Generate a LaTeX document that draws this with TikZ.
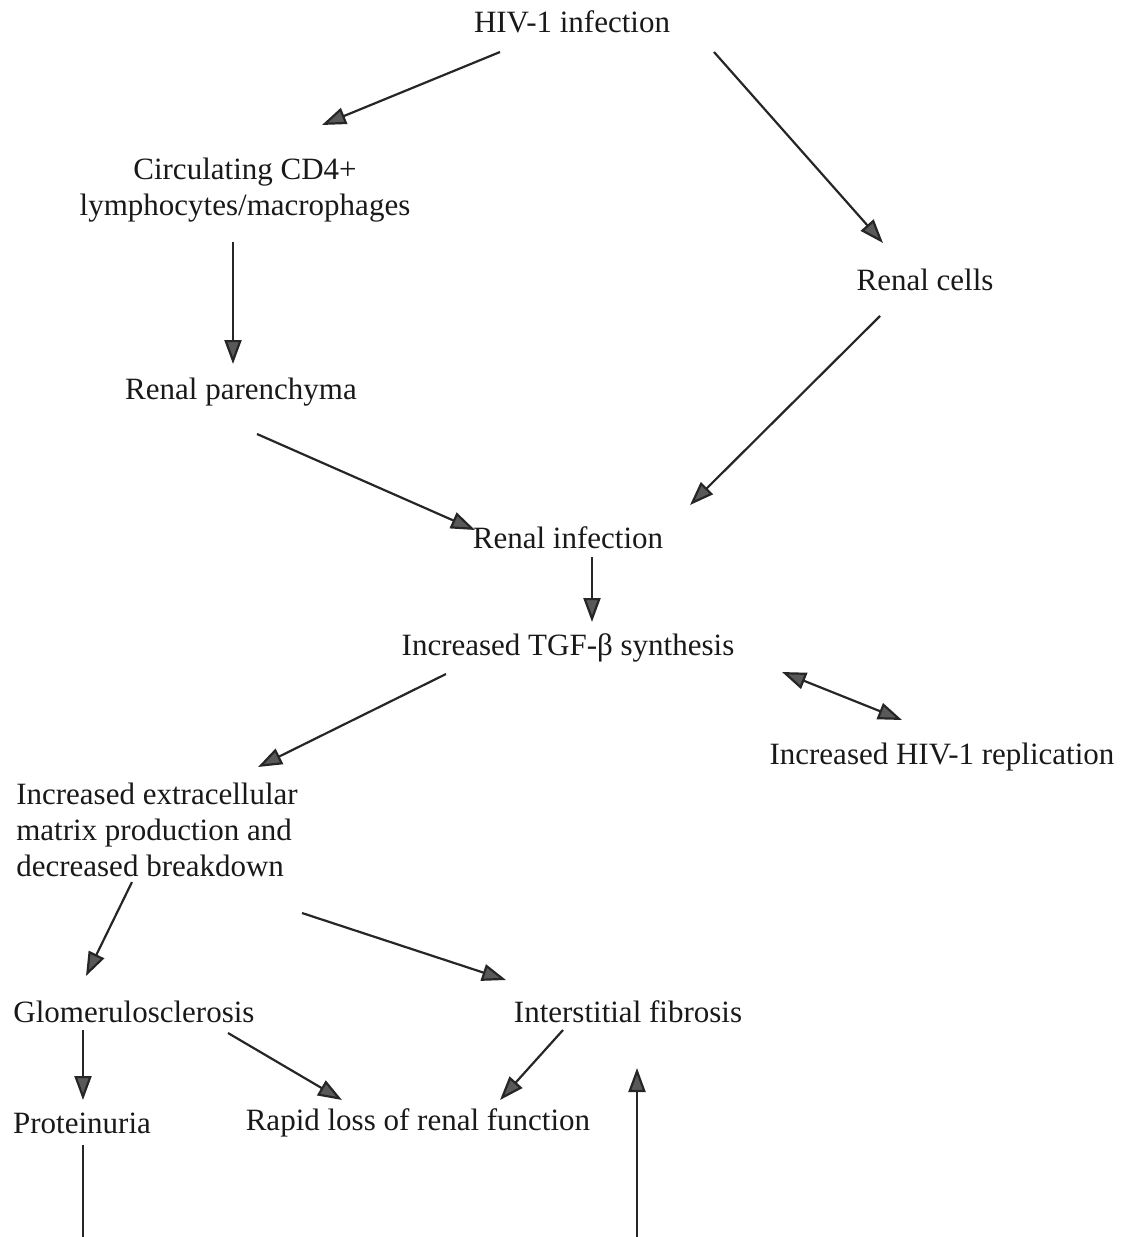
\documentclass[tikz,border=0pt]{standalone}
\usepackage{fontspec}
\setmainfont{Liberation Serif}
\usetikzlibrary{arrows.meta}

\begin{document}
\begin{tikzpicture}[x=0.5pt, y=-0.5pt,
    every node/.style={font=\fontsize{15.5}{18}\selectfont, inner sep=0pt, text=black!90},
    arr/.style={draw=black!85, line width=1.1pt, -{Triangle[length=12pt, width=8.5pt, fill=black!65]}},
    biarr/.style={draw=black!85, line width=1.1pt, {Triangle[length=12pt, width=8.5pt, fill=black!65]}-{Triangle[length=12pt, width=8.5pt, fill=black!65]}},
    plain/.style={draw=black!85, line width=1.1pt}]
  \useasboundingbox (0,0) rectangle (1126,1237);

  \node (hiv) at (572,22) {HIV-1 infection};
  \node[align=center] (circ) at (245,190) {Circulating CD4+\\lymphocytes/macrophages};
  \node (cells) at (925,280) {Renal cells};
  \node (paren) at (241,392) {Renal parenchyma};
  \node (infect) at (568,538) {Renal infection};
  \node (tgf) at (568,648) {Increased TGF-β synthesis};
  \node (repl) at (942,757) {Increased HIV-1 replication};
  \node[align=left] (ecm) at (157,830) {Increased extracellular\\matrix production and\\decreased breakdown};
  \node (glom) at (134,1012) {Glomerulosclerosis};
  \node (inter) at (628,1012) {Interstitial fibrosis};
  \node (prot) at (82,1123) {Proteinuria};
  \node (rapid) at (418,1123) {Rapid loss of renal function};
  \coordinate (pbot) at (83,1237);
  \coordinate (ibot) at (637,1237);

  \draw[arr] ([shift={(-72,30)}]hiv.center) -- ([shift={(77,-65)}]circ.center);
  \draw[arr] ([shift={(142,30)}]hiv.center) -- ([shift={(-42,-37)}]cells.center);
  \draw[arr] ([shift={(-12,52)}]circ.center) -- ([shift={(-8,-28)}]paren.center);
  \draw[arr] ([shift={(-45,36)}]cells.center) -- ([shift={(122,-33)}]infect.center);
  \draw[arr] ([shift={(16,42)}]paren.center) -- ([shift={(-93,-8)}]infect.center);
  \draw[arr] ([shift={(24,19)}]infect.center) -- ([shift={(24,-26)}]tgf.center);
  \draw[arr] ([shift={(-122,26)}]tgf.center) -- ([shift={(101,-63)}]ecm.center);
  \draw[biarr] ([shift={(214,24)}]tgf.center) -- ([shift={(-40,-37)}]repl.center);
  \draw[arr] ([shift={(-25,52)}]ecm.center) -- ([shift={(-48,-36)}]glom.center);
  \draw[arr] ([shift={(145,83)}]ecm.center) -- ([shift={(-122,-32)}]inter.center);
  \draw[arr] ([shift={(-51,18)}]glom.center) -- ([shift={(1,-23)}]prot.center);
  \draw[arr] ([shift={(94,21)}]glom.center) -- ([shift={(-76,-23)}]rapid.center);
  \draw[arr] ([shift={(-65,18)}]inter.center) -- ([shift={(82,-23)}]rapid.center);
  \draw[plain] ([shift={(1,22)}]prot.center) -- (pbot);
  \draw[arr] (ibot) -- ([shift={(9,56)}]inter.center);
\end{tikzpicture}
\end{document}
